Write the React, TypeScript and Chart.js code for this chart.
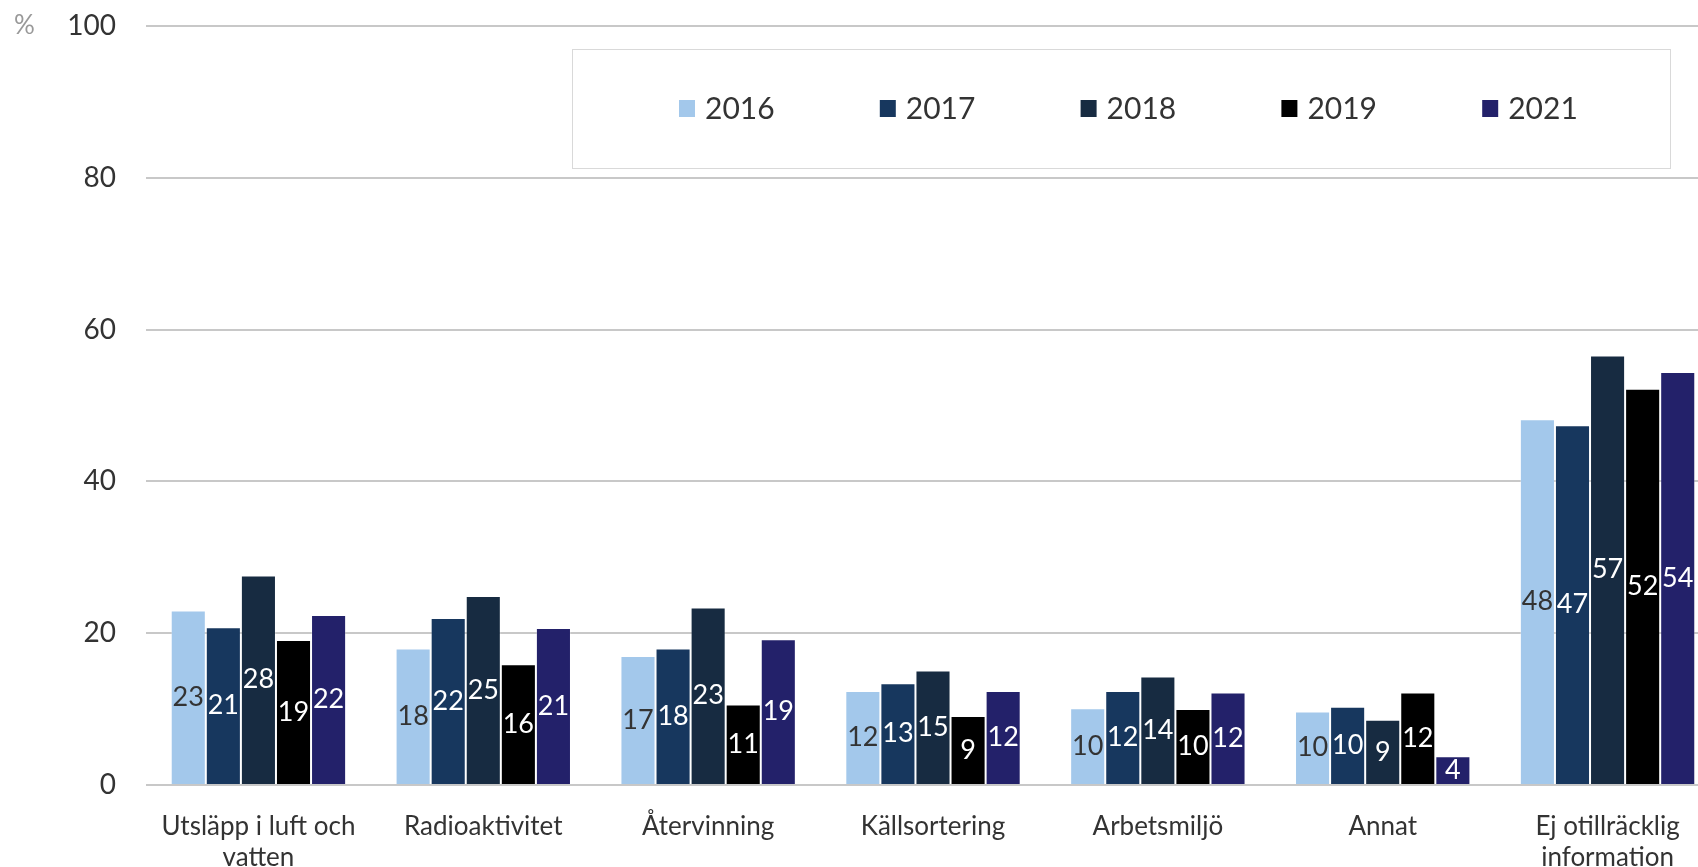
import React, { useEffect, useRef } from "react";
import { Chart, registerables } from "chart.js";

Chart.register(...registerables);

const categories: (string | string[])[] = [
  ["Utsläpp i luft och", "vatten"],
  "Radioaktivitet",
  "Återvinning",
  "Källsortering",
  "Arbetsmiljö",
  "Annat",
  ["Ej otillräcklig", "information"],
];

const years = ["2016", "2017", "2018", "2019", "2021"];

const values2016 = [23.0, 18.0, 17.0, 12.4, 10.1, 9.7, 48.2];
const values2017 = [20.8, 22.0, 18.0, 13.4, 12.4, 10.3, 47.4];
const values2018 = [27.6, 24.9, 23.4, 15.1, 14.3, 8.6, 56.6];
const values2019 = [19.1, 15.9, 10.6, 9.1, 10.0, 12.2, 52.2];
const values2021 = [22.4, 20.7, 19.2, 12.4, 12.2, 3.8, 54.4];

const yTicks = [0, 20, 40, 60, 80, 100];

const colors = ["#A3C8EB", "#17375E", "#172B41", "#000000", "#23216A"];
const labelColors = ["#333333", "#FFFFFF", "#FFFFFF", "#FFFFFF", "#FFFFFF"];

const FONT = "Lato, 'Open Sans', sans-serif";

const dataLabelPlugin = {
  id: "dataLabels",
  afterDatasetsDraw(chart: any) {
    const ctx = chart.ctx;
    ctx.save();
    ctx.font = `27px ${FONT}`;
    ctx.textAlign = "center";
    ctx.textBaseline = "middle";
    chart.data.datasets.forEach((ds: any, di: number) => {
      const meta = chart.getDatasetMeta(di);
      meta.data.forEach((bar: any, i: number) => {
        const v = ds.data[i];
        const y = (bar.y + bar.base) / 2;
        ctx.fillStyle = labelColors[di];
        ctx.fillText(String(Math.round(v)), bar.x, y);
      });
    });
    ctx.restore();
  },
};

const legendPlugin = {
  id: "boxLegend",
  afterDraw(chart: any) {
    const ctx = chart.ctx;
    ctx.save();
    const bx = 572.5, by = 49.5, bw = 1098, bh = 119;
    ctx.fillStyle = "#FFFFFF";
    ctx.fillRect(bx, by, bw, bh);
    ctx.strokeStyle = "#D9D9D9";
    ctx.lineWidth = 1;
    ctx.strokeRect(bx, by, bw, bh);
    ctx.font = `30px ${FONT}`;
    ctx.textBaseline = "middle";
    ctx.textAlign = "left";
    chart.data.datasets.forEach((ds: any, di: number) => {
      const x = 679 + di * 200.8;
      const cy = 108;
      ctx.fillStyle = ds.backgroundColor;
      ctx.fillRect(x, cy - 8, 16, 17);
      ctx.fillStyle = "#333333";
      ctx.fillText(ds.label, x + 26, cy + 1);
    });
    // percent sign
    ctx.font = `26px ${FONT}`;
    ctx.fillStyle = "#999999";
    ctx.textAlign = "left";
    ctx.fillText("%", 14, 26);
    ctx.restore();
  },
};

export default function App() {
  const ref = useRef<HTMLCanvasElement>(null);
  useEffect(() => {
    if (!ref.current) return;
    const series = [values2016, values2017, values2018, values2019, values2021];
    const chart = new Chart(ref.current, {
      type: "bar",
      data: {
        labels: categories,
        datasets: years.map((y, i) => ({
          label: y,
          data: series[i],
          backgroundColor: colors[i],
          borderColor: "rgba(255,255,255,0.25)",
          borderWidth: 1,
          categoryPercentage: 0.78,
          barPercentage: 1.0,
        })),
      },
      options: {
        responsive: false,
        animation: false,
        layout: { padding: { top: 26, left: 0, right: 0, bottom: 0 } },
        plugins: {
          legend: { display: false },
          tooltip: { enabled: false },
        },
        scales: {
          x: {
            grid: { display: false },
            border: { display: false },
            ticks: {
              color: "#333333",
              font: { family: FONT, size: 26 },
              padding: 18,
              maxRotation: 0,
              autoSkip: false,
            },
            afterFit(scale: any) {
              scale.height = 82;
            },
          },
          y: {
            min: 0,
            max: 100,
            afterBuildTicks(scale: any) {
              scale.ticks = yTicks.map((v) => ({ value: v }));
            },
            grid: { color: "#C8C8C8", lineWidth: 2, drawTicks: false },
            border: { display: false },
            ticks: {
              color: "#333333",
              font: { family: FONT, size: 28 },
              padding: 30,
            },
            afterFit(scale: any) {
              scale.width = 146;
              scale.paddingTop = 0;
              scale.paddingBottom = 0;
            },
          },
        },
      },
      plugins: [dataLabelPlugin, legendPlugin],
    });
    return () => chart.destroy();
  }, []);
  return (
    <div
      style={{
        position: "fixed",
        left: 0,
        top: 0,
        width: 1698,
        height: 867,
        overflow: "hidden",
        background: "#FFFFFF",
      }}
    >
      <canvas ref={ref} width={1720} height={867} style={{ display: "block" }} />
    </div>
  );
}
